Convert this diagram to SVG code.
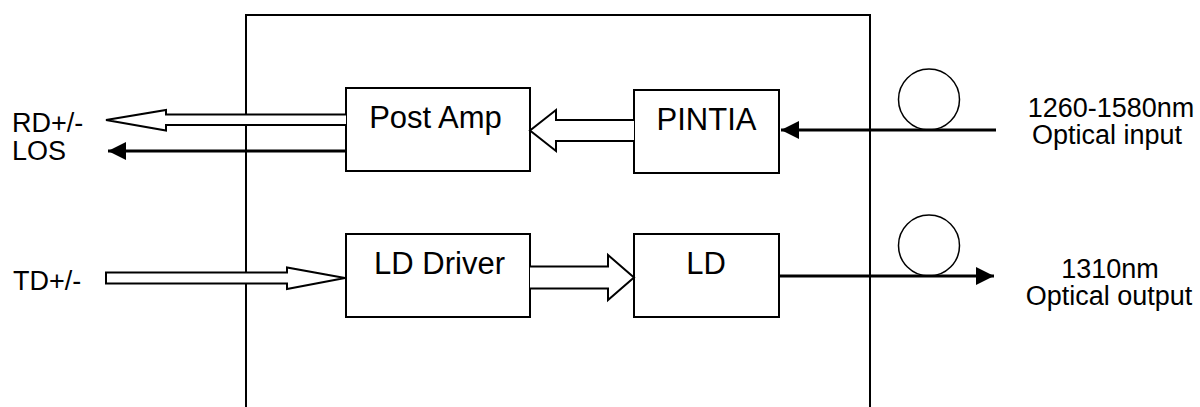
<svg xmlns="http://www.w3.org/2000/svg" width="1200" height="407" viewBox="0 0 1200 407">
<style>
.box{fill:#fff;stroke:#000;stroke-width:2}
.lbl{font-family:"Liberation Sans",Arial,sans-serif;font-size:27px;fill:#000}
.blbl{font-family:"Liberation Sans",Arial,sans-serif;font-size:31px;fill:#000}
.hollow{fill:#fff;stroke:#000;stroke-width:2;stroke-linejoin:miter}
.thick{fill:none;stroke:#000;stroke-width:3}
.fiber{fill:none;stroke:#000;stroke-width:1.5}
</style>
<defs>
<marker id="ah" viewBox="0 0 10 10" refX="10" refY="5" markerWidth="6" markerHeight="6" markerUnits="strokeWidth" orient="auto">
<path d="M0,0 L10,5 L0,10 z" fill="#000"/>
</marker>
</defs>
<g id="module"><rect x="246" y="15" width="624" height="400" fill="none" stroke="#000" stroke-width="2"/></g>
<g id="postamp"><rect class="box" x="346" y="88" width="184" height="83"/><text class="blbl" x="435.5" y="127.5" text-anchor="middle">Post Amp</text></g>
<g id="pintia"><rect class="box" x="634" y="90" width="145" height="83"/><text class="blbl" x="706.5" y="130" text-anchor="middle">PINTIA</text></g>
<g id="lddriver"><rect class="box" x="346" y="234" width="184" height="83"/><text class="blbl" x="439.5" y="274" text-anchor="middle">LD Driver</text></g>
<g id="ld"><rect class="box" x="634" y="234" width="145" height="83"/><text class="blbl" x="706" y="274" text-anchor="middle">LD</text></g>
<g id="labels">
<text class="lbl" x="12" y="132">RD+/-</text>
<text class="lbl" x="12" y="160">LOS</text>
<text class="lbl" x="13" y="290">TD+/-</text>
<text class="lbl" x="1111" y="117" text-anchor="middle">1260-1580nm</text>
<text class="lbl" x="1107" y="144" text-anchor="middle">Optical input</text>
<text class="lbl" x="1110" y="278" text-anchor="middle">1310nm</text>
<text class="lbl" x="1109" y="305" text-anchor="middle">Optical output</text>
</g>
<g id="connectors">
<path class="hollow" d="M346,114.5 L166,114.5 L166,110 L106,120 L166,130.5 L166,125 L346,125"/>
<line class="thick" x1="346" y1="151" x2="108" y2="151" marker-end="url(#ah)"/>
<path class="hollow" d="M634,120 L556,120 L556,110 L530,130.5 L556,151 L556,141 L634,141"/>
<line class="thick" x1="996" y1="130" x2="781" y2="130" marker-end="url(#ah)"/>
<circle class="fiber" cx="929" cy="99.5" r="30.5"/>
<path class="hollow" d="M106,272.5 L287,272.5 L287,267.5 L345,278 L287,289 L287,283.5 L106,283.5 Z"/>
<path class="hollow" d="M530,266.5 L608,266.5 L608,255 L634,277.5 L608,300 L608,288.5 L530,288.5"/>
<line class="thick" x1="779" y1="276" x2="994" y2="276" marker-end="url(#ah)"/>
<circle class="fiber" cx="929" cy="245.5" r="30.5"/>
</g>
</svg>
